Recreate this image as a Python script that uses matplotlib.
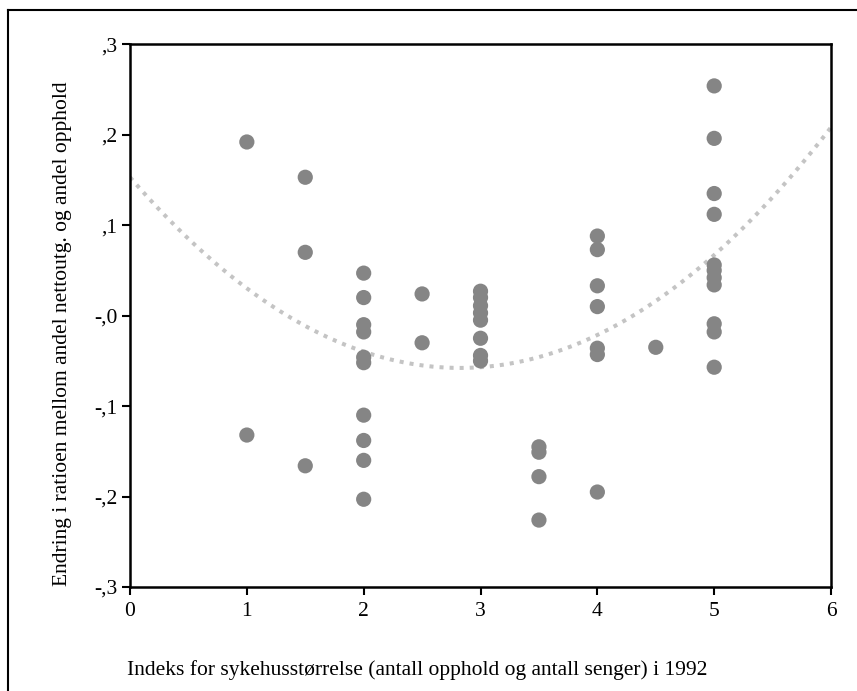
import numpy as np
import matplotlib as mpl

mpl.use('Agg')
import matplotlib.pyplot as plt
from matplotlib.lines import Line2D

# hospital size index and change in ratio
x_vals = [1, 1,
          1.5, 1.5, 1.5,
          2, 2, 2, 2, 2, 2, 2, 2, 2, 2,
          2.5, 2.5,
          3, 3, 3, 3, 3, 3, 3, 3,
          3.5, 3.5, 3.5, 3.5,
          4, 4, 4, 4, 4, 4, 4,
          4.5,
          5, 5, 5, 5, 5, 5, 5, 5, 5, 5, 5]
y_vals = [0.192, -0.132,
          0.153, 0.070, -0.166,
          0.047, 0.020, -0.010, -0.018, -0.046, -0.052, -0.110, -0.138, -0.160, -0.203,
          0.024, -0.030,
          0.027, 0.020, 0.011, 0.003, -0.005, -0.025, -0.044, -0.050,
          -0.145, -0.151, -0.178, -0.226,
          0.088, 0.073, 0.033, 0.010, -0.036, -0.043, -0.195,
          -0.035,
          0.254, 0.196, 0.135, 0.112, 0.056, 0.050, 0.042, 0.034, -0.009, -0.018, -0.057]

# quadratic trend line coefficients (a, b, c)
trend_coef = [0.0264, -0.1492, 0.153]

y_ticks = [-0.3, -0.2, -0.1, 0.0, 0.1, 0.2, 0.3]
y_tick_labels = ['-,3', '-,2', '-,1', '-,0', ',1', ',2', ',3']
x_ticks = [0, 1, 2, 3, 4, 5, 6]

plt.rcParams['font.family'] = ['Liberation Serif', 'DejaVu Serif']

fig = plt.figure(figsize=(8.57, 6.91), dpi=100)
ax = fig.add_axes([0.1517, 0.1505, 0.8180, 0.7854])

ax.scatter(x_vals, y_vals, s=120, color='#858585', edgecolors='none', zorder=3)

xx = np.linspace(0, 6, 300)
ax.plot(xx, np.polyval(trend_coef, xx), color='#c4c4c4', lw=2.9,
        linestyle=(0, (1, 1.5)), dash_capstyle='butt', zorder=2)

ax.set_xlim(0, 6)
ax.set_ylim(-0.3, 0.3)
ax.set_xticks(x_ticks)
ax.set_yticks(y_ticks)
ax.set_yticklabels(y_tick_labels)
ax.tick_params(direction='out', length=6, width=1.5, labelsize=15.5, pad=5)
ax.tick_params(axis='y', pad=3)
for sp in ax.spines.values():
    sp.set_linewidth(1.8)

ax.set_xlabel('Indeks for sykehusstørrelse (antall opphold og antall senger) i 1992',
              fontsize=15.5)
ax.set_ylabel('Endring i ratioen mellom andel nettoutg. og andel opphold',
              fontsize=15.5)
ax.xaxis.set_label_coords(0.41, -0.134)
ax.yaxis.set_label_coords(-0.083, 0.467)

# outer frame (left and top edges)
fig.add_artist(Line2D([8 / 857, 8 / 857], [0, 1 - 10 / 691], transform=fig.transFigure,
                      color='black', lw=1.5))
fig.add_artist(Line2D([8 / 857, 1], [1 - 10 / 691, 1 - 10 / 691], transform=fig.transFigure,
                      color='black', lw=1.5))

fig.savefig('out.png', dpi=100)
